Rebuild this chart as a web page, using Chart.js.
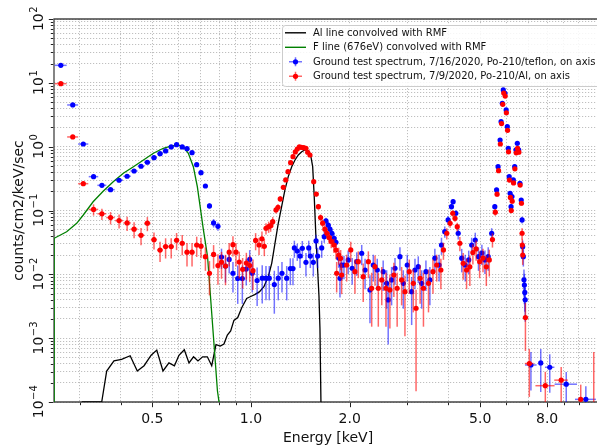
<!DOCTYPE html>
<html><head><meta charset="utf-8">
<script src="https://cdn.jsdelivr.net/npm/chart.js@4.4.1/dist/chart.umd.min.js"></script>
<style>html,body{margin:0;padding:0;background:#fff;}#wrap{width:597px;height:448px;position:relative;}</style>
</head><body><div id="wrap"><canvas id="c" width="597" height="448"></canvas></div>
<script>
// ---------- axis ticks ----------
const xTickValues = [0.5, 1.0, 2.0, 5.0, 8.0];
const xTickLabels = ['0.5', '1.0', '2.0', '5.0', '8.0'];
const xGridValues = [0.3,0.4,0.5,0.6,0.7,0.8,0.9,1,2,3,4,5,6,7,8,9,10];
const yTickExponents = [2, 1, 0, -1, -2, -3, -4];
const xTitle = 'Energy [keV]';
const yTitle = 'counts/cm2/keV/sec';
const seriesNames = [
  'Al line convolved with RMF',
  'F line (676eV) convolved with RMF',
  'Ground test spectrum, 7/16/2020, Po-210/teflon, on axis',
  'Ground test spectrum, 7/9/2020, Po-210/Al, on axis'
];

// ---------- Al line convolved with RMF: [keV, value] ----------
const alLine = [
 [0.3045,1e-4],[0.3505,1e-4],[0.363,3.06e-4],[0.382,4.4e-4],[0.403,4.66e-4],[0.428,5.3e-4],
 [0.450,3.06e-4],[0.472,3.7e-4],[0.496,5.4e-4],[0.516,6.5e-4],[0.539,3.06e-4],[0.562,4.1e-4],
 [0.584,3.7e-4],[0.603,5.4e-4],[0.626,6.6e-4],[0.647,4.1e-4],[0.668,5.1e-4],[0.689,4.4e-4],
 [0.712,5.1e-4],[0.736,5.1e-4],[0.759,3.7e-4],[0.782,7.9e-4],[0.806,7.5e-4],[0.827,8.1e-4],
 [0.847,1.12e-3],[0.867,1.3e-3],[0.887,1.9e-3],[0.911,2.1e-3],[0.937,3.0e-3],[0.970,4.2e-3],
 [0.998,4.5e-3],[1.026,4.8e-3],[1.060,5.3e-3],[1.095,6.4e-3],[1.131,9.5e-3],[1.157,0.015],
 [1.184,0.031],[1.211,0.063],[1.240,0.115],[1.269,0.21],[1.299,0.339],[1.331,0.486],
 [1.362,0.619],[1.394,0.741],[1.428,0.835],[1.461,0.888],[1.496,0.866],[1.520,0.741],
 [1.542,0.486],[1.559,0.165],[1.579,0.0346],[1.593,0.0149],[1.612,4.5e-3],[1.623,1.4e-3],
 [1.654,1e-6]
];

// ---------- F line (676eV) convolved with RMF: [keV, value] ----------
const fLine = [
 [0.2510,1e-6],[0.2510,0.0367],[0.274,0.0465],[0.294,0.063],[0.308,0.085],[0.330,0.137],
 [0.354,0.2],[0.380,0.283],[0.408,0.383],[0.438,0.486],[0.470,0.619],[0.504,0.788],
 [0.540,0.944],[0.573,1.025],[0.600,1.06],[0.622,1.0],[0.644,0.788],[0.667,0.486],
 [0.686,0.236],[0.702,0.102],[0.715,0.052],[0.737,0.019],[0.763,1.7e-3],[0.790,1.5e-4],
 [0.804,8e-5]
];

// ---------- teflon spectrum: [keV, value, relative y error, x half-width keV] ----------
const teflonPoints = [
 [0.263,18.8,0.02,0.011],[0.286,4.5,0.03,0.011],[0.308,1.10,0.04,0.011],[0.331,0.339,0.06,0.011],
 [0.351,0.248,0.06,0.011],[0.373,0.212,0.06,0.011],[0.396,0.298,0.05,0.011],[0.419,0.344,0.05,0.011],
 [0.440,0.416,0.05,0.011],[0.462,0.493,0.04,0.011],[0.483,0.570,0.04,0.011],[0.506,0.673,0.04,0.011],
 [0.528,0.777,0.04,0.011],[0.549,0.857,0.04,0.011],[0.571,0.990,0.04,0.011],[0.593,1.075,0.04,0.011],
 [0.617,0.990,0.04,0.011],[0.638,0.930,0.04,0.011],[0.661,0.805,0.04,0.011],[0.683,0.522,0.05,0.011],
 [0.704,0.391,0.06,0.011],[0.726,0.242,0.07,0.011],[0.747,0.118,0.10,0.011],[0.769,0.0638,0.15,0.011],
 [0.793,0.0566,0.15,0.011],[0.813,0.0187,0.35,0.011],[0.836,0.0135,0.45,0.011],[0.858,0.0171,0.4,0.011],
 [0.881,0.0104,0.5,0.011],[0.911,0.0086,0.6,0.011],[0.941,0.0086,0.6,0.011],[0.967,0.0121,0.45,0.011],
 [0.991,0.0171,0.4,0.011],[1.009,0.0104,0.5,0.011],[1.044,0.0080,0.6,0.011],[1.082,0.0087,0.6,0.011],
 [1.111,0.0087,0.55,0.011],[1.137,0.0087,0.55,0.011],[1.178,0.0069,0.65,0.011],[1.211,0.0087,0.55,0.011],
 [1.243,0.0104,0.5,0.011],[1.285,0.0087,0.55,0.011],[1.318,0.0123,0.45,0.011],[1.343,0.0123,0.45,0.011],
 [1.356,0.0259,0.3,0.011],[1.384,0.0232,0.3,0.011],[1.411,0.0193,0.35,0.011],[1.434,0.0256,0.3,0.011],
 [1.471,0.0154,0.4,0.011],[1.500,0.0259,0.3,0.011],[1.517,0.0193,0.35,0.011],[1.549,0.0154,0.4,0.011],
 [1.579,0.0334,0.25,0.011],[1.597,0.0193,0.35,0.011],[1.643,0.0259,0.3,0.011],[1.673,0.0389,0.2,0.011],
 [1.693,0.0688,0.12,0.011],[1.720,0.0590,0.14,0.011],[1.741,0.0510,0.15,0.011],[1.765,0.0439,0.17,0.011],
 [1.791,0.0367,0.2,0.011],[1.816,0.0318,0.22,0.011],[1.851,0.0181,0.3,0.011],[1.868,0.00867,0.5,0.011],
 [1.890,0.0139,0.4,0.011],[1.921,0.0140,0.4,0.011],[1.979,0.0168,0.4,0.011],[2.035,0.01245,0.45,0.011],
 [2.101,0.0158,0.4,0.011],[2.176,0.0214,0.35,0.011],[2.228,0.0117,0.5,0.011],[2.306,0.00569,0.7,0.011],
 [2.360,0.0140,0.45,0.011],[2.427,0.0117,0.5,0.011],[2.530,0.0110,0.5,0.011],[2.592,0.00724,0.6,0.011],
 [2.621,0.00397,0.8,0.011],[2.684,0.00816,0.6,0.011],[2.749,0.01245,0.45,0.011],[2.846,0.0189,0.4,0.011],
 [2.914,0.00724,0.6,0.011],[2.996,0.0140,0.45,0.011],[3.090,0.00535,0.7,0.011],[3.163,0.0117,0.5,0.011],
 [3.237,0.0132,0.45,0.011],[3.315,0.00724,0.6,0.011],[3.416,0.0110,0.5,0.011],[3.512,0.00816,0.6,0.011],
 [3.637,0.0179,0.4,0.011],[3.747,0.0140,0.45,0.011],[3.810,0.0288,0.3,0.011],[3.899,0.0466,0.2,0.011],
 [3.991,0.0711,0.15,0.011],[4.087,0.115,0.1,0.011],[4.134,0.1375,0.1,0.011],[4.214,0.0905,0.12,0.011],
 [4.285,0.0440,0.2,0.011],[4.392,0.0179,0.4,0.011],[4.501,0.0140,0.45,0.011],[4.613,0.0168,0.4,0.011],
 [4.71,0.0288,0.3,0.011],[4.83,0.0345,0.3,0.011],[4.94,0.0189,0.4,0.011],[5.06,0.0216,0.35,0.011],
 [5.17,0.0168,0.4,0.011],[5.29,0.0189,0.4,0.011],[5.42,0.0440,0.2,0.011],[5.54,0.115,0.1,0.011],
 [5.61,0.210,0.08,0.011],[5.67,0.486,0.05,0.011],[5.75,1.27,0.03,0.011],[5.79,2.46,0.02,0.011],
 [5.84,4.78,0.02,0.011],[5.88,7.73,0.02,0.011],[5.95,6.87,0.02,0.011],[6.00,3.76,0.02,0.011],
 [6.05,2.06,0.03,0.011],[6.09,0.944,0.04,0.011],[6.13,0.339,0.06,0.011],[6.17,0.186,0.08,0.011],
 [6.21,0.115,0.1,0.011],[6.25,0.165,0.08,0.011],[6.31,0.301,0.06,0.011],[6.37,0.486,0.05,0.011],
 [6.43,0.888,0.04,0.011],[6.49,1.13,0.04,0.011],[6.55,0.888,0.04,0.011],[6.61,0.267,0.06,0.011],
 [6.67,0.146,0.08,0.011],[6.71,0.0711,0.12,0.011],[6.74,0.0271,0.25,0.011],[6.77,0.0189,0.3,0.011],
 [6.80,0.0082,0.45,0.011],[6.82,0.0068,0.5,0.011],[6.84,0.0052,0.5,0.011],[6.86,0.0040,0.55,0.011],
 [7.14,3.8e-4,0.6,0.29],[7.65,4.1e-4,0.65,0.05],[8.15,3.5e-4,0.6,0.27],[9.15,1.9e-4,0.55,0.72],
 [10.5,1.1e-4,0.6,0.77]
];

// ---------- Al spectrum: [keV, value, relative y error, x half-width keV] ----------
const alPoints = [
 [0.263,9.7,0.02,0.011],[0.286,1.42,0.04,0.011],[0.308,0.263,0.08,0.011],[0.331,0.104,0.2,0.011],
 [0.351,0.089,0.2,0.011],[0.373,0.0775,0.22,0.011],[0.396,0.0695,0.25,0.011],[0.419,0.0638,0.25,0.011],
 [0.440,0.051,0.28,0.011],[0.462,0.0409,0.3,0.011],[0.483,0.0632,0.25,0.011],[0.506,0.0349,0.3,0.011],
 [0.528,0.0240,0.35,0.011],[0.549,0.0272,0.35,0.011],[0.571,0.0272,0.35,0.011],[0.593,0.0342,0.3,0.011],
 [0.617,0.0307,0.35,0.011],[0.638,0.0222,0.4,0.011],[0.661,0.0222,0.4,0.011],[0.683,0.0288,0.35,0.011],
 [0.704,0.0276,0.35,0.011],[0.726,0.0189,0.4,0.011],[0.747,0.0104,0.55,0.011],[0.769,0.0205,0.4,0.011],
 [0.793,0.0137,0.5,0.011],[0.813,0.0155,0.45,0.011],[0.836,0.0135,0.5,0.011],[0.858,0.0222,0.4,0.011],
 [0.881,0.0292,0.35,0.011],[0.900,0.0222,0.4,0.011],[0.921,0.0156,0.45,0.011],[0.943,0.0120,0.5,0.011],
 [0.968,0.0150,0.45,0.011],[0.991,0.0137,0.45,0.011],[1.014,0.0114,0.5,0.011],[1.033,0.0340,0.3,0.011],
 [1.058,0.0288,0.3,0.011],[1.080,0.0360,0.3,0.011],[1.098,0.0275,0.3,0.011],[1.111,0.0527,0.2,0.011],
 [1.132,0.0558,0.2,0.011],[1.148,0.0579,0.2,0.011],[1.165,0.0668,0.18,0.011],[1.192,0.102,0.12,0.011],
 [1.209,0.112,0.12,0.011],[1.228,0.152,0.1,0.011],[1.255,0.231,0.08,0.011],[1.276,0.301,0.06,0.011],
 [1.297,0.406,0.05,0.011],[1.321,0.562,0.04,0.011],[1.343,0.697,0.04,0.011],[1.365,0.826,0.04,0.011],
 [1.384,0.920,0.03,0.011],[1.404,0.989,0.03,0.011],[1.424,0.978,0.03,0.011],[1.448,0.965,0.03,0.011],
 [1.471,0.944,0.03,0.011],[1.489,0.817,0.04,0.011],[1.513,0.741,0.04,0.011],[1.553,0.283,0.06,0.011],
 [1.582,0.181,0.08,0.011],[1.605,0.1147,0.1,0.011],[1.630,0.0775,0.12,0.011],[1.654,0.0632,0.14,0.011],
 [1.680,0.0510,0.15,0.011],[1.705,0.0440,0.17,0.011],[1.732,0.0375,0.2,0.011],[1.757,0.0329,0.22,0.011],
 [1.791,0.0288,0.25,0.011],[1.816,0.0240,0.28,0.011],[1.825,0.0104,0.5,0.011],[1.851,0.0201,0.3,0.011],
 [1.877,0.0178,0.35,0.011],[1.890,0.00977,0.5,0.011],[1.958,0.0140,0.45,0.011],[2.015,0.0241,0.35,0.011],
 [2.075,0.0110,0.55,0.011],[2.125,0.0158,0.45,0.011],[2.199,0.0092,0.6,0.011],[2.280,0.0158,0.45,0.011],
 [2.334,0.00605,0.75,0.011],[2.389,0.0132,0.5,0.011],[2.445,0.00605,0.75,0.011],[2.505,0.00816,0.6,0.011],
 [2.580,0.00605,0.75,0.011],[2.652,0.00569,0.75,0.011],[2.727,0.00977,0.55,0.011],[2.791,0.00605,0.75,0.011],
 [2.880,0.00816,0.6,0.011],[2.948,0.00535,0.8,0.011],[3.039,0.0110,0.55,0.011],[3.126,0.00724,0.65,0.011],
 [3.187,0.00294,0.95,0.011],[3.279,0.00867,0.6,0.011],[3.357,0.00605,0.75,0.011],[3.478,0.00724,0.65,0.011],
 [3.589,0.0110,0.55,0.011],[3.684,0.0140,0.45,0.011],[3.794,0.0117,0.5,0.011],[3.863,0.0241,0.3,0.011],
 [3.955,0.0440,0.2,0.011],[4.048,0.0630,0.15,0.011],[4.124,0.0905,0.12,0.011],[4.189,0.0755,0.12,0.011],
 [4.256,0.0558,0.15,0.011],[4.335,0.0307,0.25,0.011],[4.437,0.0149,0.45,0.011],[4.544,0.0117,0.5,0.011],
 [4.65,0.0131,0.5,0.011],[4.75,0.0220,0.35,0.011],[4.86,0.0250,0.35,0.011],[4.98,0.0158,0.45,0.011],
 [5.10,0.0180,0.4,0.011],[5.22,0.0131,0.5,0.011],[5.33,0.0168,0.45,0.011],[5.45,0.0350,0.25,0.011],
 [5.56,0.094,0.12,0.011],[5.63,0.180,0.08,0.011],[5.69,0.420,0.05,0.011],[5.76,1.10,0.03,0.011],
 [5.81,2.30,0.03,0.011],[5.86,4.60,0.02,0.011],[5.90,6.90,0.02,0.011],[5.96,6.20,0.02,0.011],
 [6.01,3.40,0.02,0.011],[6.06,1.80,0.03,0.011],[6.10,0.830,0.04,0.011],[6.14,0.300,0.06,0.011],
 [6.18,0.160,0.08,0.011],[6.22,0.100,0.1,0.011],[6.26,0.140,0.08,0.011],[6.32,0.270,0.06,0.011],
 [6.38,0.450,0.05,0.011],[6.44,0.800,0.04,0.011],[6.50,0.940,0.04,0.011],[6.56,0.820,0.04,0.011],
 [6.62,0.250,0.06,0.011],[6.68,0.130,0.08,0.011],[6.71,0.0440,0.2,0.011],[6.72,0.0288,0.25,0.011],
 [6.74,0.0201,0.3,0.011],[6.87,0.0021,0.7,0.011],[7.06,4.0e-4,0.7,0.22],[7.90,1.8e-4,0.65,0.53],
 [8.83,2.2e-4,0.6,0.42],[10.13,1.1e-4,0.7,0.15],[11.1,8e-5,6.6,0.15]
];

// ---------- styling ----------
const FONT = '"DejaVu Sans", "Liberation Sans", sans-serif';
const BLUE = '#0000ff', RED = '#ff0000', GREEN = '#008000', BLACK = '#000000';
const BLUE_ERR = 'rgba(0,0,255,0.55)', RED_ERR = 'rgba(255,0,0,0.6)';
const AREA = {left: 54, top: 19, right: 597, bottom: 402};

const errorBarPlugin = {
  id: 'errbars',
  beforeDatasetDraw(chart, args) {
    const ds = chart.data.datasets[args.index];
    if (!ds.errRows) return;
    const {ctx, chartArea: a, scales: {x, y}} = chart;
    ctx.save();
    ctx.beginPath(); ctx.rect(a.left, a.top, a.right - a.left, a.bottom - a.top); ctx.clip();
    ctx.strokeStyle = ds.errColor; ctx.lineWidth = 1.5;
    for (const r of ds.errRows) {
      const [E, v, rel, dx] = r;
      const px = x.getPixelForValue(E), py = y.getPixelForValue(v);
      const err = rel * v;
      const lo = (v - err) > 0 ? y.getPixelForValue(v - err) : a.bottom + 20;
      const hi = y.getPixelForValue(v + err);
      ctx.beginPath(); ctx.moveTo(px, lo); ctx.lineTo(px, hi); ctx.stroke();
      if (dx > 0) {
        ctx.beginPath();
        ctx.moveTo(x.getPixelForValue(E - dx), py); ctx.lineTo(x.getPixelForValue(E + dx), py);
        ctx.stroke();
      }
    }
    ctx.restore();
  }
};

// force the plot area to the reference geometry
const areaPlugin = {
  id: 'area',
  afterLayout(chart) {
    const a = chart.chartArea;
    a.left = AREA.left; a.top = AREA.top; a.right = AREA.right; a.bottom = AREA.bottom;
    a.width = a.right - a.left; a.height = a.bottom - a.top;
    const {x, y} = chart.scales;
    x.left = AREA.left; x.right = AREA.right; x.width = AREA.right - AREA.left;
    x.top = AREA.bottom; x.bottom = AREA.bottom;
    y.top = AREA.top; y.bottom = AREA.bottom; y.height = AREA.bottom - AREA.top;
    y.left = AREA.left; y.right = AREA.left;
    x.configure(); y.configure();
  }
};

// axis spines (drawn under the data, like the reference)
const spinePlugin = {
  id: 'spines',
  beforeDatasetsDraw(chart) {
    const {ctx, chartArea: a} = chart;
    ctx.save();
    ctx.strokeStyle = '#444'; ctx.lineWidth = 1.3;
    ctx.beginPath();
    ctx.moveTo(a.right + 2, a.top); ctx.lineTo(a.left, a.top); ctx.lineTo(a.left, a.bottom); ctx.lineTo(a.right + 2, a.bottom);
    ctx.stroke();
    ctx.restore();
  }
};

const decoPlugin = {
  id: 'deco',
  afterDraw(chart) {
    const {ctx, chartArea: a, scales: {x, y}} = chart;
    ctx.save();
    // ticks
    ctx.strokeStyle = '#222'; ctx.lineWidth = 1;
    ctx.beginPath();
    for (const v of xGridValues) {
      const px = Math.round(x.getPixelForValue(v)) + 0.5;
      const len = xTickValues.includes(v) ? 4.5 : 2.5;
      ctx.moveTo(px, a.bottom + 0.7); ctx.lineTo(px, a.bottom + 0.7 + len);
    }
    for (let e = -4; e <= 2; e++) {
      for (let k = 1; k <= 9; k++) {
        const val = k * Math.pow(10, e);
        if (val > 100.0001) break;
        const py = Math.round(y.getPixelForValue(val)) + 0.5;
        const len = k === 1 ? 4.5 : 2.5;
        ctx.moveTo(a.left - 0.7, py); ctx.lineTo(a.left - 0.7 - len, py);
      }
    }
    ctx.stroke();
    // x tick labels
    ctx.fillStyle = '#111';
    ctx.font = '14px ' + FONT;
    ctx.textAlign = 'center'; ctx.textBaseline = 'alphabetic';
    xTickValues.forEach((v, i) => ctx.fillText(xTickLabels[i], x.getPixelForValue(v), 423));
    // y tick labels (rotated, with superscript)
    yTickExponents.forEach(e => {
      const py = y.getPixelForValue(Math.pow(10, e));
      const expStr = e < 0 ? '\u2212' + Math.abs(e) : String(e);
      ctx.save();
      ctx.translate(43, py); ctx.rotate(-Math.PI / 2);
      ctx.font = '14px ' + FONT; const w1 = ctx.measureText('10').width;
      ctx.font = '10px ' + FONT; const w2 = ctx.measureText(expStr).width;
      const start = -(w1 + w2) / 2;
      ctx.textAlign = 'left';
      ctx.font = '14px ' + FONT; ctx.fillText('10', start, 0);
      ctx.font = '10px ' + FONT; ctx.fillText(expStr, start + w1 + 0.5, -6);
      ctx.restore();
    });
    // axis titles
    ctx.font = '14px ' + FONT; ctx.textAlign = 'center';
    ctx.fillText(xTitle, 328, 442);
    ctx.save(); ctx.translate(23, (a.top + a.bottom) / 2); ctx.rotate(-Math.PI / 2);
    ctx.fillText(yTitle, 0, 0); ctx.restore();
    // legend
    const lx = 282, ly = 25, lw = 330, lh = 61;
    ctx.beginPath();
    ctx.roundRect(lx + 0.5, ly + 0.5, lw, lh, 3);
    ctx.fillStyle = 'rgba(255,255,255,0.85)'; ctx.fill();
    ctx.strokeStyle = '#cccccc'; ctx.lineWidth = 1; ctx.stroke();
    const rows = [32.8, 47.3, 61.8, 76.3];
    const styles = [
      {kind: 'line', c: BLACK}, {kind: 'line', c: GREEN},
      {kind: 'err', c: BLUE, e: BLUE_ERR}, {kind: 'err', c: RED, e: RED_ERR}
    ];
    ctx.font = '10px ' + FONT; ctx.textAlign = 'left'; ctx.textBaseline = 'middle';
    rows.forEach((ry, i) => {
      const s = styles[i];
      if (s.kind === 'line') {
        ctx.strokeStyle = s.c; ctx.lineWidth = 1.4;
        ctx.beginPath(); ctx.moveTo(285, ry); ctx.lineTo(306, ry); ctx.stroke();
      } else {
        ctx.strokeStyle = s.e; ctx.lineWidth = 1.5;
        ctx.beginPath(); ctx.moveTo(289, ry); ctx.lineTo(302, ry);
        ctx.moveTo(295.5, ry - 4.5); ctx.lineTo(295.5, ry + 4.5); ctx.stroke();
        ctx.fillStyle = s.c; ctx.beginPath(); ctx.arc(295.5, ry, 2.6, 0, Math.PI * 2); ctx.fill();
      }
      ctx.fillStyle = '#111';
      ctx.fillText(seriesNames[i], 313, ry + 0.5);
    });
    ctx.restore();
  }
};

const ptsOf = rows => rows.map(r => ({x: r[0], y: r[1]}));

new Chart(document.getElementById('c'), {
  type: 'scatter',
  data: {
    datasets: [
      {label: seriesNames[0], data: ptsOf(alLine), showLine: true, borderColor: BLACK, borderWidth: 1.3,
       pointRadius: 0, tension: 0, order: 4},
      {label: seriesNames[1], data: ptsOf(fLine), showLine: true, borderColor: GREEN, borderWidth: 1.3,
       pointRadius: 0, tension: 0, order: 3},
      {label: seriesNames[2], data: ptsOf(teflonPoints), showLine: false, pointRadius: 2.6, pointBorderWidth: 0,
       pointBackgroundColor: BLUE, backgroundColor: BLUE, borderColor: BLUE, order: 2,
       errRows: teflonPoints, errColor: BLUE_ERR},
      {label: seriesNames[3], data: ptsOf(alPoints), showLine: false, pointRadius: 2.6, pointBorderWidth: 0,
       pointBackgroundColor: RED, backgroundColor: RED, borderColor: RED, order: 1,
       errRows: alPoints, errColor: RED_ERR}
    ]
  },
  options: {
    responsive: false, animation: false, devicePixelRatio: 1,
    layout: {padding: {left: 54, top: 19, right: 0, bottom: 46}},
    plugins: {legend: {display: false}, tooltip: {enabled: false}},
    events: [],
    scales: {
      x: {
        type: 'logarithmic', min: 0.25073, max: 11.356, bounds: 'data',
        ticks: {display: false}, grid: {drawTicks: false, color: '#b8b8b8', lineWidth: 0.9},
        border: {display: false, dash: [1.2, 1.8]},
        afterBuildTicks: s => { s.ticks = xGridValues.map(v => ({value: v})); },
        afterFit: s => { s.height = 0; s.paddingLeft = 0; s.paddingRight = 0; }
      },
      y: {
        type: 'logarithmic', min: 1e-4, max: 100, bounds: 'data',
        ticks: {display: false}, grid: {drawTicks: false, color: '#b8b8b8', lineWidth: 0.9},
        border: {display: false, dash: [1.2, 1.8]},
        afterBuildTicks: s => {
          const t = [];
          for (let e = -4; e <= 2; e++) for (let k = 1; k <= 9; k++) {
            const v = k * Math.pow(10, e); if (v <= 100.0001) t.push({value: v});
          }
          s.ticks = t;
        },
        afterFit: s => { s.width = 0; s.paddingTop = 0; s.paddingBottom = 0; }
      }
    }
  },
  plugins: [areaPlugin, spinePlugin, errorBarPlugin, decoPlugin]
});
</script></body></html>
